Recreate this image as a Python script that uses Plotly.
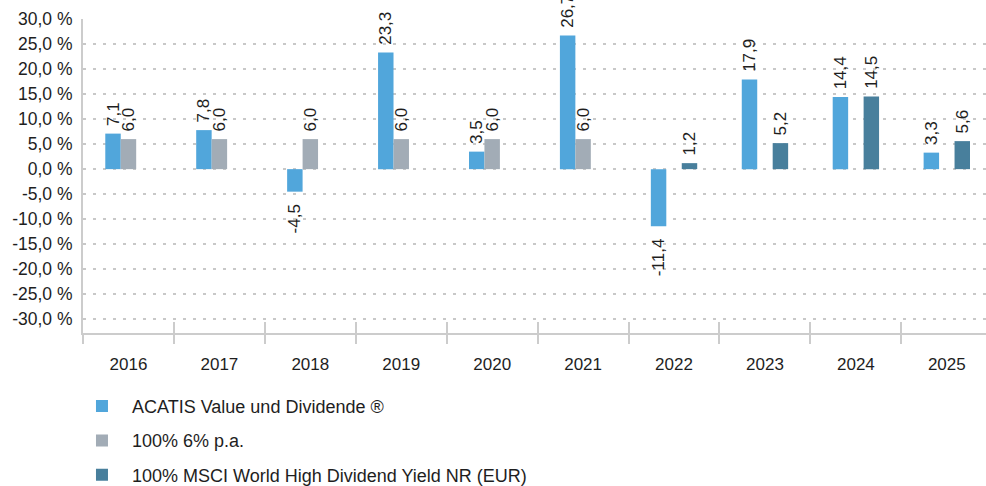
import plotly.graph_objects as go

years = ["2016", "2017", "2018", "2019", "2020", "2021", "2022", "2023", "2024", "2025"]
acatis = [7.1, 7.8, -4.5, 23.3, 3.5, 26.7, -11.4, 17.9, 14.4, 3.3]
benchmark_6pct = [6.0, 6.0, 6.0, 6.0, 6.0, 6.0, None, None, None, None]
msci_hdy = [None, None, None, None, None, None, 1.2, 5.2, 14.5, 5.6]

series_names = [
    "ACATIS Value und Dividende ®",
    "100% 6% p.a.",
    "100% MSCI World High Dividend Yield NR (EUR)",
]
series_colors = ["#51A6DB", "#A2ACB6", "#487F9C"]

y_tickvals = [30, 25, 20, 15, 10, 5, 0, -5, -10, -15, -20, -25, -30]
y_ticktext = ["30,0 %", "25,0 %", "20,0 %", "15,0 %", "10,0 %", "5,0 %", "0,0 %",
              "-5,0 %", "-10,0 %", "-15,0 %", "-20,0 %", "-25,0 %", "-30,0 %"]

FONT = "Liberation Sans, Arial, sans-serif"
TXT = "#1e1e1e"
NBSP = "\u00a0"


def labels(vals):
    out = []
    for v in vals:
        if v is None:
            out.append(None)
            continue
        s = f"{v:.1f}".replace(".", ",")
        out.append(NBSP + s if v >= 0 else s + NBSP * 2)
    return out


fig = go.Figure()
for i, (name, vals, col) in enumerate(zip(series_names, [acatis, benchmark_6pct, msci_hdy], series_colors)):
    fig.add_trace(go.Bar(
        x=years, y=vals, name=name, marker=dict(color=col, line=dict(width=0)),
        text=labels(vals), textposition="outside", textangle=-90,
        constraintext="none", cliponaxis=False,
        textfont=dict(family=FONT, size=17, color=TXT),
        legendgroup=f"g{i}", hoverinfo="skip",
    ))

# helper trace for the secondary (outer-tick) category axis
fig.add_trace(go.Scatter(x=years, y=[None] * len(years), xaxis="x2", mode="markers",
                         showlegend=False, hoverinfo="skip"))

xrange = [-0.5, 9.431]
fig.update_layout(
    width=986, height=486,
    margin=dict(l=83, r=0, t=19.3, b=153),
    paper_bgcolor="white", plot_bgcolor="white",
    barmode="group", bargap=0.49, bargroupgap=0,
    font=dict(family=FONT, size=17, color=TXT),
    showlegend=True,
    legend=dict(orientation="v", x=-0.0122, xanchor="left",
                yref="container", y=0.202, yanchor="top",
                traceorder="grouped", tracegroupgap=8, itemwidth=50,
                font=dict(family=FONT, size=18, color=TXT),
                bgcolor="rgba(0,0,0,0)"),
    xaxis=dict(type="category", categoryorder="array", categoryarray=years,
               range=xrange, showgrid=False, showline=True, linecolor="#cccccc", linewidth=2,
               ticks="inside", ticklen=11, tickwidth=2, tickcolor="#cccccc",
               tickson="boundaries", showticklabels=False, zeroline=False, fixedrange=True),
    xaxis2=dict(type="category", categoryorder="array", categoryarray=years,
                range=xrange, overlaying="x", anchor="y", side="bottom",
                showgrid=False, showline=False,
                ticks="outside", ticklen=10, tickwidth=2, tickcolor="#cccccc",
                tickson="boundaries", showticklabels=True, ticklabelstandoff=19,
                tickfont=dict(family=FONT, size=17, color=TXT), zeroline=False),
    yaxis=dict(range=[-32.74, 30], tickvals=y_tickvals, ticktext=y_ticktext,
               showgrid=True, gridcolor="#c8c8c8", gridwidth=2, griddash="3px,7px",
               showline=True, linecolor="#cccccc", linewidth=2, zeroline=False,
               ticks="", ticklabelstandoff=5,
               tickfont=dict(family=FONT, size=17.5, color=TXT)),
)

fig.write_html("out.html", config={"displayModeBar": False},
               post_script="document.body.style.margin='0';")
